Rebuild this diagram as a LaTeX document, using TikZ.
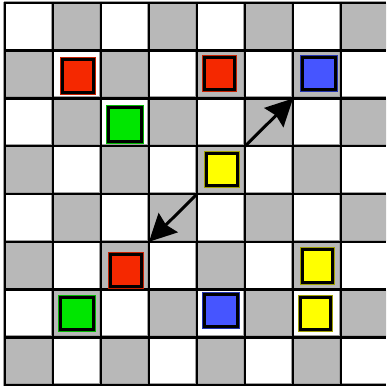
\documentclass[tikz,border=0pt]{standalone}
\usetikzlibrary{arrows.meta}
\definecolor{cellgray}{HTML}{B8B8B8}
\definecolor{rimgray}{HTML}{A0A0A0}
\definecolor{pred}{HTML}{F52800}
\definecolor{pgreen}{HTML}{00E600}
\definecolor{pblue}{HTML}{4655FF}
\definecolor{pyellow}{HTML}{FFFF00}
\definecolor{redrim}{HTML}{C82000}
\definecolor{greenrim}{HTML}{00B800}
\definecolor{bluerim}{HTML}{2233B0}
\definecolor{yellowrim}{HTML}{A0A000}
\newcommand\mypiece[6]{%
  \fill[#5] (#1,#2) rectangle (#3,#4);
  \draw[#6, rimline] ({#1+0.5},{#2+0.5}) rectangle ({#3-0.5},{#4-0.5});
  \draw[pieceline] ({#1+2.3},{#2+2.3}) rectangle ({#3-2.3},{#4-2.3});}
\begin{document}
\begin{tikzpicture}[x=1pt,y=-1pt,
  gridline/.style={line width=2.5pt, black},
  shadeline/.style={line width=0.8pt, rimgray},
  rimline/.style={line width=1pt},
  pieceline/.style={line width=2.6pt, black},
  arr/.style={line width=3pt, black, -{Stealth[length=27pt,width=27pt,inset=3pt]}}]
\useasboundingbox (0,0) rectangle (386,387);
\clip (0,0) rectangle (386,387);
\fill[white] (0,0) rectangle (386,387);
% checkerboard cells
\foreach \r in {0,...,7} {
  \foreach \c in {0,...,7} {
    \pgfmathtruncatemacro\p{mod(\r+\c,2)}
    \ifnum\p=1
      \fill[cellgray] ({5+48*\c},{3+47.75*\r}) rectangle ++(48,47.75);
    \fi
  }
}
% light shade lines
\foreach \c in {0,...,7} {
  \draw[shadeline] ({5+48*\c-1.6},2) -- ({5+48*\c-1.6},386);
}
\foreach \r in {0,...,8} {
  \draw[shadeline] (4,{3+47.75*\r-1.6}) -- (386,{3+47.75*\r-1.6});
}
% black grid lines
\foreach \c in {0,...,7} {
  \draw[gridline] ({5+48*\c},2) -- ({5+48*\c},386);
}
\foreach \r in {0,...,8} {
  \draw[gridline] (4,{3+47.75*\r}) -- (386,{3+47.75*\r});
}
% pieces
\mypiece{60}{57}{96}{95}{pred}{redrim}
\mypiece{202}{55}{237}{92}{pred}{redrim}
\mypiece{300}{55}{338}{92}{pblue}{bluerim}
\mypiece{106}{105}{144}{144}{pgreen}{greenrim}
\mypiece{204}{151}{240}{188}{pyellow}{yellowrim}
\mypiece{108}{252}{144}{289}{pred}{redrim}
\mypiece{300}{247}{335}{285}{pyellow}{yellowrim}
\mypiece{58}{295}{96}{332}{pgreen}{greenrim}
\mypiece{202}{292}{240}{329}{pblue}{bluerim}
\mypiece{298}{295}{333}{332}{pyellow}{yellowrim}
% arrows
\coordinate (a1) at (245,146.25);
\coordinate (a2) at (293,98.5);
\coordinate (b1) at (197,194);
\coordinate (b2) at (149,241.75);
\draw[arr] (a1) -- (a2);
\draw[arr] (b1) -- (b2);
\end{tikzpicture}
\end{document}
